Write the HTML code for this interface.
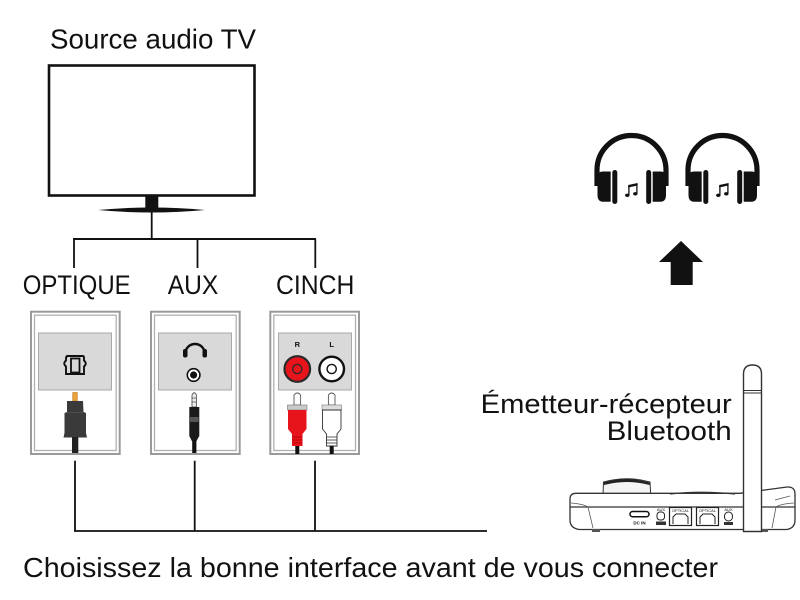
<!DOCTYPE html>
<html>
<head>
<meta charset="utf-8">
<style>
html,body{margin:0;padding:0;background:#fff;}
svg{display:block;}
text{font-family:"Liberation Sans",sans-serif;fill:#111;}
</style>
</head>
<body>
<svg width="800" height="600" viewBox="0 0 800 600" xmlns="http://www.w3.org/2000/svg">
<rect width="800" height="600" fill="#fff"/>

<!-- Title -->
<text x="50" y="48.5" font-size="28" textLength="206" lengthAdjust="spacingAndGlyphs">Source audio TV</text>

<!-- TV -->
<rect x="49" y="65.5" width="205.5" height="130" fill="#fff" stroke="#111" stroke-width="2.6"/>
<rect x="145.3" y="196" width="13" height="15" fill="#111"/>
<path d="M98,210 Q151,205 205,210 Q151,215 98,210 Z" fill="#111"/>
<line x1="151.7" y1="212" x2="151.7" y2="239" stroke="#111" stroke-width="1.8"/>
<line x1="73" y1="239" x2="316" y2="239" stroke="#111" stroke-width="2"/>
<line x1="74" y1="239" x2="74" y2="268" stroke="#111" stroke-width="1.8"/>
<line x1="197.5" y1="239" x2="197.5" y2="268" stroke="#111" stroke-width="1.8"/>
<line x1="315.3" y1="239" x2="315.3" y2="268" stroke="#111" stroke-width="1.8"/>

<!-- Labels -->
<text x="22.7" y="294" font-size="27" textLength="108" lengthAdjust="spacingAndGlyphs">OPTIQUE</text>
<text x="167.7" y="294" font-size="27" textLength="50.6" lengthAdjust="spacingAndGlyphs">AUX</text>
<text x="276" y="294" font-size="27" textLength="78.3" lengthAdjust="spacingAndGlyphs">CINCH</text>

<!-- Box 1: optical -->
<rect x="31" y="311.7" width="88.7" height="142.3" fill="#fff" stroke="#9a9a9a" stroke-width="2"/>
<rect x="34.5" y="315.2" width="81.7" height="135.3" fill="none" stroke="#b0b0b0" stroke-width="1.3"/>
<rect x="38.5" y="333" width="73" height="57" fill="#d9d9d9" stroke="#a8a8a8" stroke-width="1"/>
<path d="M67,356.5 Q66,356 67.5,356 L82.5,356 Q84,356 84,357.5 L84,360.5 Q87.5,363.5 84,366.5 L84,374 L66,374 L66,366.5 Q62.5,363.5 66,360.5 L66,357.5 Z" fill="none" stroke="#111" stroke-width="1.9"/>
<rect x="71" y="358.5" width="8.5" height="14" fill="none" stroke="#111" stroke-width="1.8"/>
<rect x="72.7" y="392.5" width="4.6" height="8.5" fill="#e9a23b" stroke="#c07820" stroke-width="0.6"/>
<path d="M67,401 L83,401 L83.5,412 L86,413 L86,433 L87,437.5 L63.5,437.5 L64.5,433 L64.5,413 L67,412 Z" fill="#3a3a3a"/>
<line x1="67" y1="412.5" x2="83" y2="412.5" stroke="#555" stroke-width="0.8"/>
<rect x="72" y="437" width="6.3" height="16" fill="#222"/>

<!-- Box 2: AUX -->
<rect x="151" y="311.7" width="88.7" height="142.3" fill="#fff" stroke="#9a9a9a" stroke-width="2"/>
<rect x="154.5" y="315.2" width="81.7" height="135.3" fill="none" stroke="#b0b0b0" stroke-width="1.3"/>
<rect x="158.5" y="333" width="73" height="57" fill="#d9d9d9" stroke="#a8a8a8" stroke-width="1"/>
<path d="M185.5,353 A9.5,9 0 0 1 204.5,353" fill="none" stroke="#111" stroke-width="2.4"/>
<rect x="183" y="349" width="4.5" height="8.5" rx="2" fill="#111"/>
<rect x="202.5" y="349" width="4.5" height="8.5" rx="2" fill="#111"/>
<circle cx="193.6" cy="375" r="6.3" fill="#fff" stroke="#111" stroke-width="1.6"/>
<circle cx="193.6" cy="375" r="3.6" fill="#111"/>
<path d="M192,407 L192,395 Q194.2,390.5 196.4,395 L196.4,407 Z" fill="#eee" stroke="#555" stroke-width="0.9"/>
<line x1="192" y1="398" x2="196.4" y2="398" stroke="#555" stroke-width="0.8"/>
<line x1="192" y1="402" x2="196.4" y2="402" stroke="#555" stroke-width="0.8"/>
<path d="M189.3,407 L199.3,407 L199.3,436 L196.5,441 L191.8,441 L189.3,436 Z" fill="#1a1a1a"/>
<rect x="190" y="417" width="8.6" height="5" fill="#555"/>
<rect x="192.2" y="440" width="4.2" height="13" fill="#111"/>

<!-- Box 3: CINCH -->
<rect x="270.3" y="311.7" width="88.7" height="142.3" fill="#fff" stroke="#9a9a9a" stroke-width="2"/>
<rect x="273.8" y="315.2" width="81.7" height="135.3" fill="none" stroke="#b0b0b0" stroke-width="1.3"/>
<rect x="278.5" y="333" width="73" height="57" fill="#d9d9d9" stroke="#a8a8a8" stroke-width="1"/>
<text x="297.3" y="347" font-size="7.5" font-weight="bold" text-anchor="middle">R</text>
<text x="331.7" y="347" font-size="7.5" font-weight="bold" text-anchor="middle">L</text>
<circle cx="297.3" cy="369" r="12.8" fill="#e8141b" stroke="#2a2a2a" stroke-width="2.2"/>
<circle cx="297.3" cy="369" r="4.6" fill="#e8141b" stroke="#2a2a2a" stroke-width="1.3"/>
<circle cx="331.7" cy="369" r="12.3" fill="#fff" stroke="#111" stroke-width="2.4"/>
<circle cx="331.7" cy="369" r="4.6" fill="#fff" stroke="#111" stroke-width="1.4"/>
<!-- red plug -->
<path d="M294,405 L294,395 Q297.3,391 300.6,395 L300.6,405 Z" fill="#fff" stroke="#555" stroke-width="0.9"/>
<rect x="287.5" y="405" width="19.5" height="5" fill="#c9c9c9" stroke="#777" stroke-width="0.6"/>
<path d="M288,410 L306.5,410 L306.5,429 L302.5,434 L302.5,446 L292,446 L292,434 L288,429 Z" fill="#e8141b"/>
<line x1="292" y1="437" x2="302.5" y2="437" stroke="#a00" stroke-width="0.8"/>
<line x1="292" y1="440" x2="302.5" y2="440" stroke="#a00" stroke-width="0.8"/>
<line x1="292" y1="443" x2="302.5" y2="443" stroke="#a00" stroke-width="0.8"/>
<rect x="295.3" y="446" width="4" height="8" fill="#111"/>
<!-- white plug -->
<path d="M328.4,405 L328.4,395 Q331.7,391 335,395 L335,405 Z" fill="#fff" stroke="#555" stroke-width="0.9"/>
<rect x="322" y="405" width="19.5" height="5" fill="#ddd" stroke="#777" stroke-width="0.6"/>
<path d="M322.5,410 L341,410 L341,429 L337,434 L337,446 L326.5,446 L326.5,434 L322.5,429 Z" fill="#fff" stroke="#333" stroke-width="0.9"/>
<line x1="326.5" y1="437" x2="337" y2="437" stroke="#333" stroke-width="0.8"/>
<line x1="326.5" y1="440" x2="337" y2="440" stroke="#333" stroke-width="0.8"/>
<line x1="326.5" y1="443" x2="337" y2="443" stroke="#333" stroke-width="0.8"/>
<rect x="329.7" y="446" width="4" height="8" fill="#111"/>

<!-- Bottom connector lines -->
<line x1="75" y1="460.7" x2="75" y2="531.3" stroke="#111" stroke-width="1.8"/>
<line x1="194.7" y1="460.7" x2="194.7" y2="531.3" stroke="#111" stroke-width="1.8"/>
<line x1="315" y1="460.7" x2="315" y2="531.3" stroke="#111" stroke-width="1.8"/>
<line x1="74" y1="531" x2="487" y2="531" stroke="#111" stroke-width="1.8"/>

<!-- Bottom text -->
<text x="23" y="577" font-size="28" textLength="695" lengthAdjust="spacingAndGlyphs">Choisissez la bonne interface avant de vous connecter</text>

<!-- Headphones -->
<g id="hp">
<path d="M597,186 L597,170 A34.5,34.5 0 0 1 666,170 L666,186" fill="none" stroke="#111" stroke-width="5.2"/>
<path d="M610.7,171.5 L603,171.5 Q597.5,171.5 597.5,178 L597.5,195 Q597.5,201.7 603,201.7 L610.7,201.7 Z" fill="#111"/>
<rect x="612.3" y="170" width="5" height="34" rx="2.5" fill="#111"/>
<path d="M652.7,171.5 L660.5,171.5 Q666,171.5 666,178 L666,195 Q666,201.7 660.5,201.7 L652.7,201.7 Z" fill="#111"/>
<rect x="646.2" y="170" width="5" height="34" rx="2.5" fill="#111"/>
<path d="M628.2,185 L637.6,183 L637.6,185.5 L628.2,187.5 Z" fill="#111"/>
<line x1="628.9" y1="186" x2="628.9" y2="195" stroke="#111" stroke-width="1.3"/>
<line x1="636.9" y1="184" x2="636.9" y2="193.5" stroke="#111" stroke-width="1.3"/>
<ellipse cx="627.3" cy="195.3" rx="2.2" ry="1.7" fill="#111"/>
<ellipse cx="635.3" cy="193.8" rx="2.2" ry="1.7" fill="#111"/>
</g>
<use href="#hp" x="91" y="0"/>

<!-- Arrow -->
<polygon points="681,241 703,262 692.7,262 692.7,285 670.7,285 670.7,262 659,262" fill="#111"/>

<!-- Emetteur text -->
<text x="731.7" y="413" font-size="27" text-anchor="end" textLength="251" lengthAdjust="spacingAndGlyphs">Émetteur-récepteur</text>
<text x="731.7" y="440" font-size="27" text-anchor="end" textLength="125" lengthAdjust="spacingAndGlyphs">Bluetooth</text>

<!-- Device -->
<path d="M603,495 L603.5,482 Q626.7,475.5 650,482 L650.7,495 Z" fill="#f4f4f4" stroke="#333" stroke-width="1"/>
<path d="M603.5,482.5 Q626.7,475.5 650,482.5 L649.5,485 Q626.7,479 604,485 Z" fill="#222"/>
<path d="M576,493.3 L740,493.3 L787,487 Q795,486.5 795,494 L795,520 Q795,528 787,529.5 L579,529.5 Q570,528 570,520 L570,499 Q570,493.3 576,493.3 Z" fill="#fff" stroke="#333" stroke-width="1.3"/>
<path d="M570.5,507 L795,507" stroke="#333" stroke-width="1.2"/>
<path d="M571,503 Q583,504 588,507 L593,528" fill="none" stroke="#555" stroke-width="0.8"/>
<path d="M794,503 Q780,504 776,507 L772,528" fill="none" stroke="#555" stroke-width="0.8"/>
<path d="M790,496 L775,500" stroke="#555" stroke-width="0.8"/>
<path d="M670,494 Q700,490.5 735,494" fill="none" stroke="#333" stroke-width="1.2"/>
<rect x="592" y="529" width="8" height="3" fill="#555"/>
<rect x="760" y="529" width="8" height="3" fill="#555"/>
<rect x="630" y="511.5" width="19" height="5.2" rx="2.6" fill="#fff" stroke="#111" stroke-width="1.5"/>
<text x="639.5" y="524.5" font-size="4.5" font-weight="bold" text-anchor="middle">DC IN</text>
<text x="661" y="511" font-size="4" text-anchor="middle">AUX</text>
<rect x="657" y="512" width="7.5" height="8" rx="3" fill="none" stroke="#222" stroke-width="1"/>
<rect x="656" y="521.5" width="10" height="3.5" fill="#333"/>
<rect x="669.5" y="507.5" width="22" height="18" fill="none" stroke="#222" stroke-width="1.2"/>
<text x="680.5" y="512" font-size="4" text-anchor="middle">OPTICAL</text>
<path d="M673,524 L673,517 L676,514 L685,514 L688,517 L688,524" fill="none" stroke="#222" stroke-width="1"/>
<rect x="696.5" y="507.5" width="22" height="18" fill="none" stroke="#222" stroke-width="1.2"/>
<text x="707.5" y="512" font-size="4" text-anchor="middle">OPTICAL</text>
<path d="M700,524 L700,517 L703,514 L712,514 L715,517 L715,524" fill="none" stroke="#222" stroke-width="1"/>
<text x="728.5" y="511" font-size="4" text-anchor="middle">AUX</text>
<rect x="724.5" y="512" width="8" height="9" rx="4" fill="none" stroke="#222" stroke-width="1"/>
<rect x="724" y="522" width="9" height="3" fill="#333"/>
<!-- Antenna -->
<path d="M743.5,531.5 L743.5,374 Q743.5,365 752.5,365 Q761.5,365 761.5,374 L761.5,531.5 Z" fill="#fff" stroke="#333" stroke-width="1.4"/>
<line x1="743.5" y1="390.5" x2="761.5" y2="390.5" stroke="#333" stroke-width="1"/>
<line x1="743.5" y1="393" x2="761.5" y2="393" stroke="#333" stroke-width="1"/>
</svg>
</body>
</html>
